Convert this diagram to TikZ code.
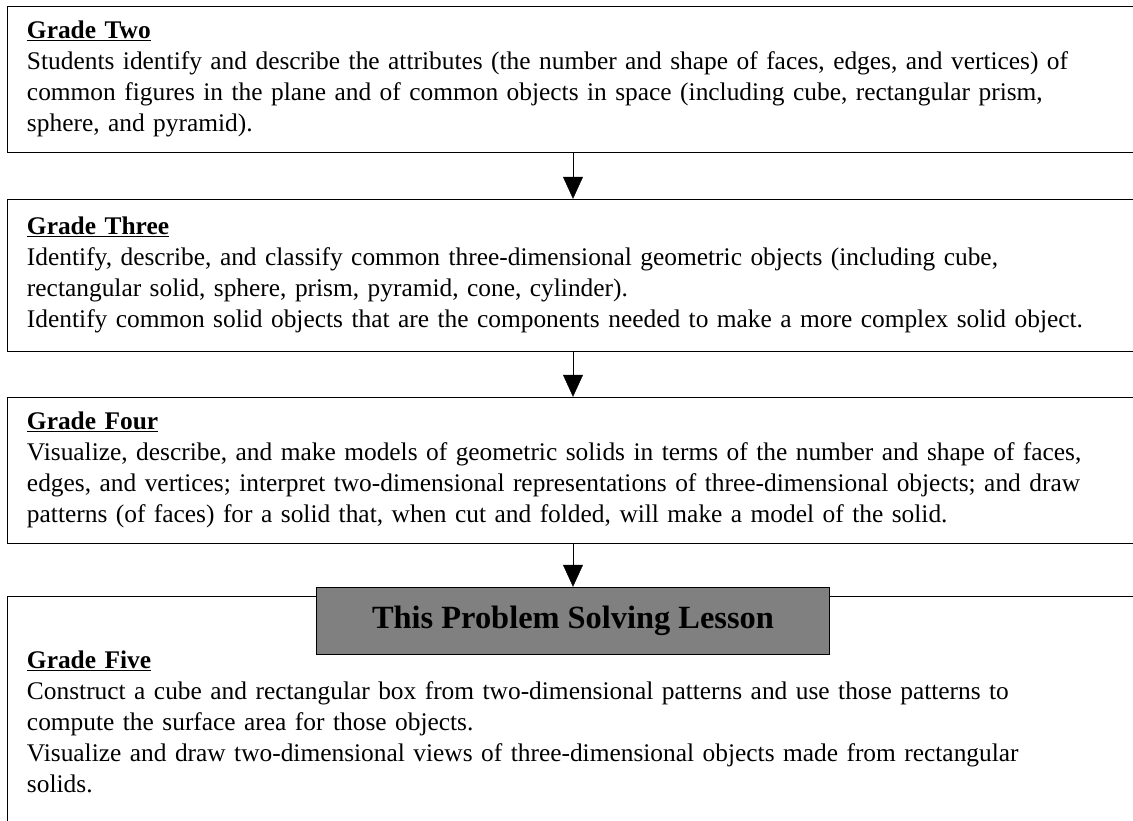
\documentclass[tikz,border=0pt]{standalone}
\usepackage{fontspec}
\setmainfont{Liberation Serif}
\usetikzlibrary{arrows.meta}
\definecolor{lessongray}{RGB}{128,128,128}
\tikzset{-{Triangle[width = 20pt, length = 22pt]}, line width = 2pt,
	gradebox/.style = {draw, align = left, text width = 1092pt, inner xsep = 20pt, inner ysep = 0pt, font = \fontsize{25.4}{31}\selectfont},
	lessonbox/.style = {draw, fill = lessongray, minimum width = 513pt, minimum height = 67pt, font = \fontsize{32.4}{38}\selectfont\bfseries}}

\begin{document}
\begin{tikzpicture}[x = 1pt, y = -1pt]
	
	\useasboundingbox (0, 0) rectangle (1133, 820);
	
	\node[gradebox, minimum height = 146pt] (2) at (573, 79) {\underline{\textbf{Grade Two}}\\
		Students identify and describe the attributes (the number and shape of faces, edges, and vertices) of\\
		common figures in the plane and of common objects in space (including cube, rectangular prism,\\
		sphere, and pyramid).};
	\node[gradebox, minimum height = 152pt] (3) at (573, 275) {\underline{\textbf{Grade Three}}\\
		Identify, describe, and classify common three-dimensional geometric objects (including cube,\\
		rectangular solid, sphere, prism, pyramid, cone, cylinder).\\
		Identify common solid objects that are the components needed to make a more complex solid object.};
	\node[gradebox, minimum height = 146pt] (4) at (573, 470) {\underline{\textbf{Grade Four}}\\
		Visualize, describe, and make models of geometric solids in terms of the number and shape of faces,\\
		edges, and vertices; interpret two-dimensional representations of three-dimensional objects; and draw\\
		patterns (of faces) for a solid that, when cut and folded, will make a model of the solid.};
	\node[gradebox, minimum height = 251pt] (5) at (573, 721.5) {\underline{\textbf{Grade Five}}\\
		Construct a cube and rectangular box from two-dimensional patterns and use those patterns to\\
		compute the surface area for those objects.\\
		Visualize and draw two-dimensional views of three-dimensional objects made from rectangular\\
		solids.};
	\node[lessonbox] (lesson) at (573, 620.5) {This Problem Solving Lesson};
	
	\path (2) edge (3);
	\path (3) edge (4);
	\path (4) edge (lesson);
	
\end{tikzpicture}
\end{document}
